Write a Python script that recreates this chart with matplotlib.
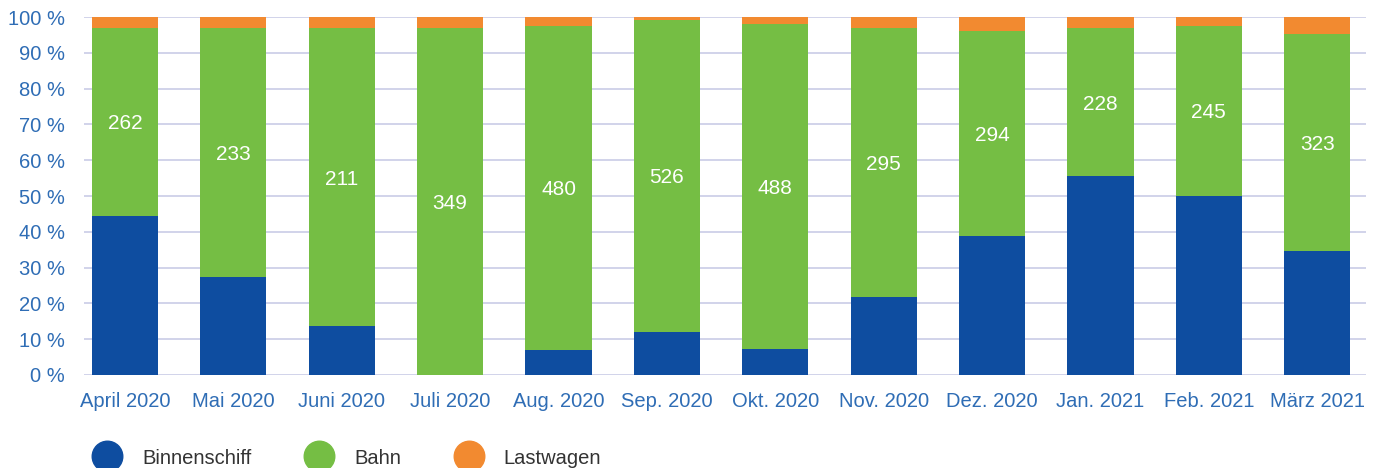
import matplotlib.pyplot as plt
import numpy as np
from matplotlib.lines import Line2D

plt.rcParams['font.family'] = ['Liberation Sans', 'DejaVu Sans']

monate = ['April 2020', 'Mai 2020', 'Juni 2020', 'Juli 2020', 'Aug. 2020', 'Sep. 2020',
          'Okt. 2020', 'Nov. 2020', 'Dez. 2020', 'Jan. 2021', 'Feb. 2021', 'März 2021']
binnenschiff = [44.5, 27.5, 13.7, 0.0, 7.0, 12.0, 7.3, 21.8, 38.9, 55.5, 50.1, 34.7]
bahn = [52.4, 69.4, 83.2, 96.9, 90.5, 87.2, 90.7, 75.1, 57.2, 41.4, 47.4, 60.5]
lastwagen = [3.1, 3.1, 3.1, 3.1, 2.5, 0.8, 2.0, 3.1, 3.9, 3.1, 2.5, 4.8]
bahn_labels = [262, 233, 211, 349, 480, 526, 488, 295, 294, 228, 245, 323]

c_blau = '#0E4DA0'
c_gruen = '#75BE44'
c_orange = '#F28A30'
c_text = '#2F6DB5'

fig = plt.figure(figsize=(13.81, 4.68), dpi=100)
ax = fig.add_axes([84/1381, 93/468, (1366-84)/1381, (375-17)/468])

x = np.arange(len(monate))
b = np.array(binnenschiff)
g = np.array(bahn)
o = np.array(lastwagen)
w = 0.61
ax.bar(x, b, width=w, color=c_blau, zorder=3)
ax.bar(x, g, width=w, bottom=b, color=c_gruen, zorder=3)
ax.bar(x, o, width=w, bottom=b + g, color=c_orange, zorder=3)

# Bahn-Werte mittig im grünen Segment
for xi, bi, gi, lab in zip(x, b, g, bahn_labels):
    ax.text(xi, bi + gi / 2, str(lab), ha='center', va='center_baseline', color='white',
            fontsize=15, zorder=4)

ax.set_xlim(-0.378, 11.45)
ax.set_ylim(0, 100)
ax.set_yticks(range(0, 101, 10))
ax.set_yticklabels([f'{v} %' for v in range(0, 101, 10)])
ax.set_xticks(x)
ax.set_xticklabels(monate)
ax.tick_params(axis='both', length=0, labelsize=14.5, labelcolor=c_text)
ax.tick_params(axis='y', pad=14)
ax.tick_params(axis='x', pad=12)
ax.grid(axis='y', color='#C9CCE6', linewidth=1.2, zorder=0)
for s in ax.spines.values():
    s.set_visible(False)

handles = [Line2D([], [], marker='o', linestyle='', markersize=22, color=c)
           for c in (c_blau, c_gruen, c_orange)]
fig.legend(handles, ['Binnenschiff', 'Bahn', 'Lastwagen'], ncol=3, frameon=False,
           loc='center left', bbox_to_anchor=(97/1381, 10/468), borderaxespad=0,
           borderpad=0, fontsize=14.5, handlelength=1.0, handletextpad=1.25,
           columnspacing=2.85, labelcolor='#333333')

fig.savefig('out.png', dpi=100)
